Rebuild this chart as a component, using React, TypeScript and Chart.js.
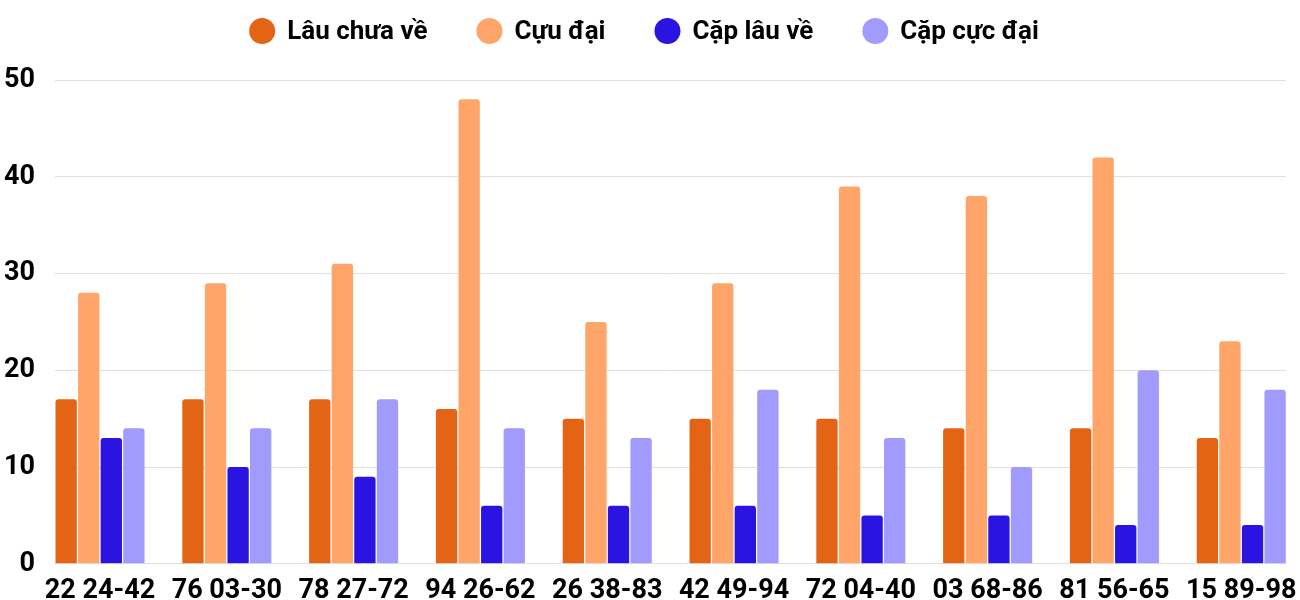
import React, { useEffect, useRef } from "react";
import { Chart, registerables } from "chart.js";

Chart.register(...registerables);

const categories = [
  "22 24-42",
  "76 03-30",
  "78 27-72",
  "94 26-62",
  "26 38-83",
  "42 49-94",
  "72 04-40",
  "03 68-86",
  "81 56-65",
  "15 89-98",
];

const lauChuaVe = [17, 17, 17, 16, 15, 15, 15, 14, 14, 13];
const cucDai = [28, 29, 31, 48, 25, 29, 39, 38, 42, 23];
const capLauVe = [13, 10, 9, 6, 6, 6, 5, 5, 4, 4];
const capCucDai = [14, 14, 17, 14, 13, 18, 13, 10, 20, 18];

const yTicks = [0, 10, 20, 30, 40, 50];

const seriesNames = ["Lâu chưa về", "Cựu đại", "Cặp lâu về", "Cặp cực đại"];
const seriesColors = ["#E36414", "#FFA56A", "#2914E1", "#A29BFE"];

const FONT_FAMILY = "Roboto, 'Noto Sans', sans-serif";

// Legend drawn across the top of the canvas: filled circles followed by bold labels.
const topLegend = {
  id: "topLegend",
  afterDraw(chart: Chart) {
    const ctx = chart.ctx;
    const fontSize = 26;
    const radius = 13;
    const textGap = 12;
    const itemGap = 49;
    const cy = 31;
    ctx.save();
    ctx.font = `bold ${fontSize}px ${FONT_FAMILY}`;
    const widths = seriesNames.map(
      (n) => radius * 2 + textGap + ctx.measureText(n).width
    );
    const total = widths.reduce((a, b) => a + b, 0) + itemGap * (widths.length - 1);
    let x = 644 - total / 2;
    seriesNames.forEach((name, i) => {
      ctx.fillStyle = seriesColors[i];
      ctx.beginPath();
      ctx.arc(x + radius, cy, radius, 0, Math.PI * 2);
      ctx.fill();
      ctx.fillStyle = "#000000";
      ctx.textAlign = "left";
      ctx.textBaseline = "middle";
      ctx.fillText(name, x + radius * 2 + textGap, cy + 1);
      x += widths[i] + itemGap;
    });
    ctx.restore();
  },
};

export default function App() {
  const canvasRef = useRef<HTMLCanvasElement | null>(null);

  useEffect(() => {
    if (!canvasRef.current) return;
    const seriesValues = [lauChuaVe, cucDai, capLauVe, capCucDai];
    const chart = new Chart(canvasRef.current, {
      type: "bar",
      data: {
        datasets: seriesValues.map((values, s) => ({
          label: seriesNames[s],
          data: values.map((v, i) => ({ x: i, y: v })),
          backgroundColor: seriesColors[s],
          borderRadius: 3,
          borderSkipped: "start",
          categoryPercentage: 0.712,
          barPercentage: 0.945,
        })),
      },
      plugins: [topLegend],
      options: {
        animation: false,
        responsive: false,
        maintainAspectRatio: false,
        layout: { padding: { top: 80, right: 14, left: 0, bottom: 0 } },
        plugins: {
          legend: { display: false },
          tooltip: { enabled: false },
        },
        scales: {
          x: {
            type: "linear",
            offset: false,
            min: -0.355,
            max: 9.353,
            grid: { display: false, offset: false },
            border: { display: false },
            afterBuildTicks: (scale: any) => {
              scale.ticks = categories.map((_, i) => ({ value: i }));
            },
            afterFit: (scale: any) => {
              scale.height = 35;
            },
            ticks: {
              autoSkip: false,
              maxRotation: 0,
              padding: 3,
              color: "#000000",
              font: { family: FONT_FAMILY, size: 27, weight: "bold" },
              callback: (v: any) => categories[v as number] ?? "",
            },
          },
          y: {
            min: 0,
            max: 50,
            grid: { color: "#E0E0E0", lineWidth: 1, drawTicks: false },
            border: { display: false },
            afterBuildTicks: (scale: any) => {
              scale.ticks = yTicks.map((v) => ({ value: v }));
            },
            afterFit: (scale: any) => {
              scale.width = 55;
            },
            ticks: {
              padding: 20,
              color: "#000000",
              font: { family: FONT_FAMILY, size: 27, weight: "bold" },
            },
          },
        },
      },
    });
    return () => chart.destroy();
  }, []);

  return (
    <div style={{ position: "fixed", left: 0, top: 0, width: 1300, height: 600, background: "#ffffff" }}>
      <canvas ref={canvasRef} width={1300} height={600} />
    </div>
  );
}
